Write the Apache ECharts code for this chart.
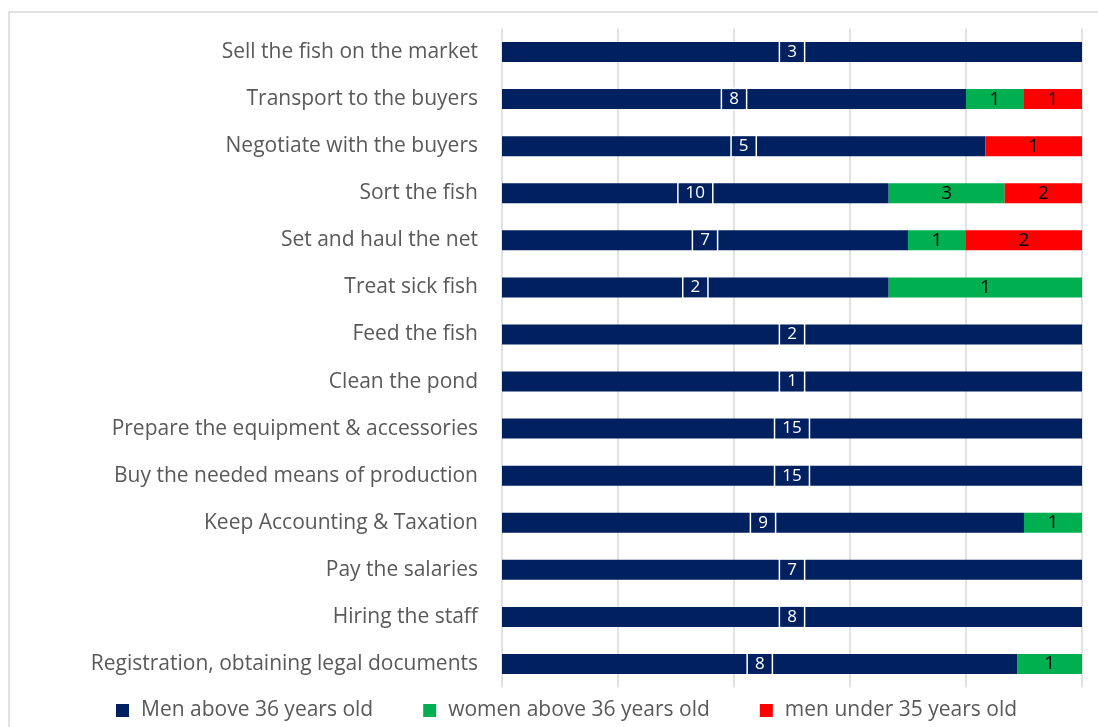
<!DOCTYPE html>
<html lang="en">

<head>
  <meta charset="UTF-8">
  <title>Fish farm tasks</title>
  <script src="https://cdn.jsdelivr.net/npm/echarts@6/dist/echarts.min.js"></script>
  <style>
    body { margin: 0; background: #fff; }
  </style>
</head>

<body>
  <div id="chart" style="width: 1098px; height: 727px"></div>

  <script>
    let tasks = ['Sell the fish on the market', 'Transport to the buyers', 'Negotiate with the buyers', 'Sort the fish',
      'Set and haul the net', 'Treat sick fish', 'Feed the fish', 'Clean the pond', 'Prepare the equipment & accessories',
      'Buy the needed means of production', 'Keep Accounting & Taxation', 'Pay the salaries', 'Hiring the staff',
      'Registration, obtaining legal documents']
    let menAbove36 = [3, 8, 5, 10, 7, 2, 2, 1, 15, 15, 9, 7, 8, 8]
    let womenAbove36 = [0, 1, 0, 3, 1, 1, 0, 0, 0, 0, 1, 0, 0, 1]
    let menUnder35 = [0, 1, 1, 2, 2, 0, 0, 0, 0, 0, 0, 0, 0, 0]
    let seriesNames = ['Men above 36 years old', 'women above 36 years old', 'men under 35 years old']

    let font = '"Open Sans", sans-serif'
    let totals = tasks.map((t, i) => menAbove36[i] + womenAbove36[i] + menUnder35[i])
    // 100% stacked: bar length is the share, label shows the count
    let share = arr => arr.map((v, i) => ({ value: v / totals[i] * 100, count: v }))

    let countLabel = p => p.data.count ? String(p.data.count) : ''

    let myChart = echarts.init(document.getElementById('chart'))
    let option = {
      animation: false,
      graphic: [{
        type: 'rect',
        shape: { x: 9, y: 12, width: 1200, height: 800 },
        style: { fill: 'none', stroke: '#d9d9d9', lineWidth: 1.5 },
        silent: true
      }],
      grid: { left: 502, right: 16, top: 28.5, bottom: 39.5 },
      legend: {
        bottom: 1,
        left: 111,
        itemGap: 50,
        itemWidth: 13,
        itemHeight: 13,
        icon: 'rect',
        textStyle: { fontFamily: font, fontSize: 21, color: '#595959', padding: [0, 0, 0, 7] }
      },
      xAxis: {
        type: 'value',
        min: 0,
        max: 100,
        interval: 20,
        axisLabel: { show: false },
        axisLine: { show: false },
        axisTick: { show: false },
        splitLine: { lineStyle: { color: '#d9d9d9', width: 1.5 } }
      },
      yAxis: {
        type: 'category',
        data: tasks,
        inverse: true,
        axisLine: { show: false },
        axisTick: { show: false },
        axisLabel: { fontFamily: font, fontSize: 21, color: '#595959', margin: 24, padding: [3, 0, 0, 0] }
      },
      series: [{
          type: 'bar',
          name: seriesNames[0],
          stack: 'all',
          barWidth: 20,
          data: share(menAbove36),
          itemStyle: { color: '#002060' },
          label: {
            show: true,
            position: 'inside',
            formatter: countLabel,
            color: '#fff',
            fontFamily: font,
            fontSize: 17,
            lineHeight: 18,
            backgroundColor: '#002060',
            borderColor: '#fff',
            borderWidth: 1.5,
            padding: [1, 7, 1, 7]
          }
        },
        {
          type: 'bar',
          name: seriesNames[1],
          stack: 'all',
          barWidth: 20,
          data: share(womenAbove36),
          itemStyle: { color: '#00b050' },
          label: { show: true, position: 'inside', formatter: countLabel, color: '#000', fontFamily: font, fontSize: 19 }
        },
        {
          type: 'bar',
          name: seriesNames[2],
          stack: 'all',
          barWidth: 20,
          data: share(menUnder35),
          itemStyle: { color: '#ff0000' },
          label: { show: true, position: 'inside', formatter: countLabel, color: '#000', fontFamily: font, fontSize: 19 }
        }
      ]
    }
    myChart.setOption(option)
  </script>
</body>

</html>
